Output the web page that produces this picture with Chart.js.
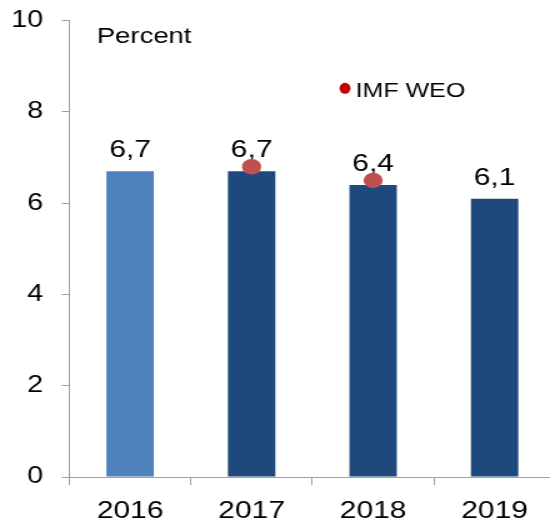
<!DOCTYPE html>
<html>
<head>
<meta charset="utf-8">
<script src="https://cdn.jsdelivr.net/npm/chart.js@4.4.0/dist/chart.umd.min.js"></script>
<style>
  html, body { margin: 0; padding: 0; background: #fff; overflow: hidden; }
  /* the reference is stretched sideways, so draw narrow and widen it */
  #wrap { width: 452px; height: 524px; transform: scaleX(1.25); transform-origin: 0 0; }
</style>
</head>
<body>
<div id="wrap"><canvas id="chart" width="452" height="524"></canvas></div>
<script>
const stretch = 1.25;

const years = ['2016', '2017', '2018', '2019'];
const growth = [6.7, 6.7, 6.4, 6.1];
const imfWeo = [null, 6.8, 6.5, null];
const yTicks = [0, 2, 4, 6, 8, 10];
const barColors = ['#4F81BD', '#1F497D', '#1F497D', '#1F497D'];

const fontFam = '"Liberation Sans", Arial, sans-serif';
const axisGray = '#A0A0A0';

// value labels like "6,7" over each bar
const barLabels = {
  id: 'barLabels',
  beforeDatasetsDraw(chart) {
    const ctx = chart.ctx;
    const meta = chart.getDatasetMeta(0);
    ctx.save();
    ctx.font = '24px ' + fontFam;
    ctx.fillStyle = '#000';
    ctx.textAlign = 'center';
    ctx.textBaseline = 'alphabetic';
    meta.data.forEach(function(bar, i) {
      const txt = growth[i].toFixed(1).replace('.', ',');
      ctx.fillText(txt, bar.x, bar.y - 14);
    });
    ctx.restore();
  }
};

// "Percent" note and the IMF WEO legend
const notes = {
  id: 'notes',
  afterDraw(chart) {
    const ctx = chart.ctx;
    ctx.save();
    ctx.fillStyle = '#000';
    ctx.textAlign = 'left';
    ctx.textBaseline = 'alphabetic';
    ctx.font = '22px ' + fontFam;
    ctx.fillText('Percent', 77.4, 43);

    const ds = chart.data.datasets[1];
    ctx.fillStyle = '#C00000';
    ctx.beginPath();
    ctx.ellipse(276, 88.3, 5.5 / stretch, 5.5, 0, 0, Math.PI * 2);
    ctx.fill();
    ctx.fillStyle = '#000';
    ctx.font = '20px ' + fontFam;
    ctx.fillText(ds.label, 284.5, 96.7);
    ctx.restore();
  }
};

function noEdgePadding(s) {
  s.paddingTop = 0;
  s.paddingBottom = 0;
  s.paddingLeft = 0;
  s.paddingRight = 0;
}

const config = {
  data: {
    labels: years,
    datasets: [
      {
        type: 'bar',
        label: 'Growth',
        data: growth,
        backgroundColor: barColors,
        borderWidth: 0,
        barPercentage: 0.39,
        categoryPercentage: 1,
        order: 1
      },
      {
        type: 'line',
        label: 'IMF WEO',
        data: imfWeo,
        showLine: false,
        pointRadius: 7.7,
        pointBorderWidth: 0,
        pointBackgroundColor: '#C0504D',
        order: 0
      }
    ]
  },
  options: {
    responsive: false,
    animation: false,
    devicePixelRatio: 1,
    layout: { padding: { top: 20.7, right: 0, bottom: 0, left: 0 } },
    plugins: {
      legend: { display: false },
      tooltip: { enabled: false }
    },
    scales: {
      x: {
        offset: true,
        grid: { offset: true, drawOnChartArea: false, drawTicks: true, tickLength: 8, color: axisGray },
        border: { color: axisGray },
        ticks: { color: '#000', font: { family: fontFam, size: 24 }, padding: 12 },
        afterFit: function(s) { s.height = 47; noEdgePadding(s); }
      },
      y: {
        min: 0,
        max: 10,
        afterBuildTicks: function(s) { s.ticks = yTicks.map(v => ({ value: v })); },
        grid: { drawOnChartArea: false, drawTicks: true, tickLength: 6, color: axisGray },
        border: { color: axisGray },
        ticks: { color: '#000', font: { family: fontFam, size: 23 }, padding: 15 },
        afterFit: function(s) { s.width = 55.5; noEdgePadding(s); }
      }
    }
  },
  plugins: [barLabels, notes]
};

const chart = new Chart(document.getElementById('chart'), config);
</script>
</body>
</html>
